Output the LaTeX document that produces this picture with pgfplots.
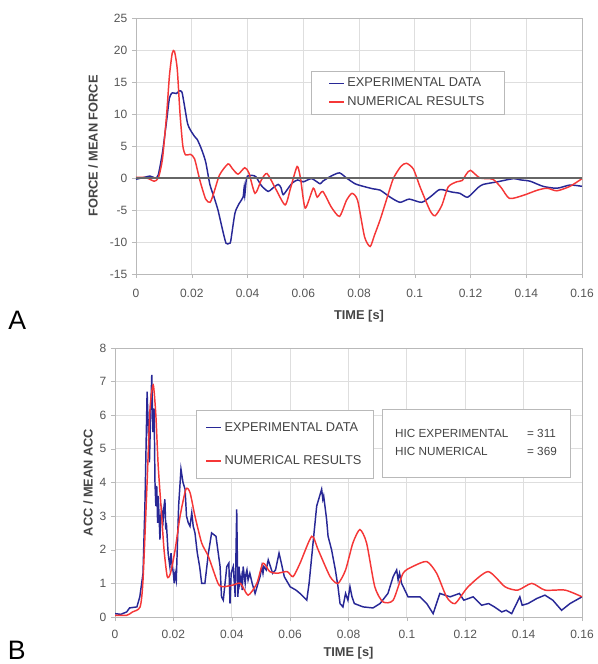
\documentclass[border=0pt]{standalone}
\usepackage{fontspec}
\setmainfont{Liberation Sans}
\usepackage{pgfplots}
\pgfplotsset{compat=1.18}

\definecolor{expblue}{RGB}{40,40,150}
\definecolor{numred}{RGB}{245,55,55}
\definecolor{gridgray}{RGB}{222,222,222}
\definecolor{framegray}{RGB}{185,185,185}
\definecolor{txtgray}{RGB}{85,85,85}

\pgfplotsset{
  excel/.style={
    scale only axis,
    anchor=south west,
    axis line style={framegray},
    grid=major,
    grid style={gridgray, line width=0.6pt},
    tick style={framegray},
    tick align=outside,
    major tick length=3pt,
    xtick pos=bottom, ytick pos=left,
    xmin=0, xmax=0.16,
    xtick={0,0.02,...,0.16},
    xticklabels={0,0.02,0.04,0.06,0.08,0.1,0.12,0.14,0.16},
    tick label style={font=\fontsize{9}{10}\selectfont, text=txtgray},
    /pgf/number format/assume math mode=true,
    label style={font=\fontsize{9.6}{11}\selectfont\bfseries, text=txtgray!80!black},
    legend cell align=left,
    legend image code/.code={\draw[#1, line width=1.2pt] (0pt,0pt) -- (11pt,0pt);},
  },
}

\begin{document}
\begin{tikzpicture}
\path[use as bounding box] (0,0) rectangle (447.75pt,498pt);

% ---------- A : force ----------
\begin{axis}[excel,
  at={(102pt,292.5pt)},
  width=334.5pt, height=192pt,
  ymin=-15, ymax=25, ytick={-15,-10,...,25},
  xticklabel style={yshift=-5pt},
  xlabel={TIME [s]},
  ylabel={FORCE / MEAN FORCE},
  xlabel style={at={(axis description cs:0.5,-0.164)}, anchor=center},
  ylabel style={at={(axis description cs:-0.0964,0.5)}, anchor=center},
  legend style={at={(0.392,0.793)}, anchor=north west, draw=framegray,
    font=\fontsize{9.6}{11}\selectfont, text=txtgray!80!black,
    inner xsep=13pt, inner ysep=3pt, row sep=2pt},
]
\addplot[expblue, line width=1.1pt, smooth, tension=0.4] coordinates {
 (0,-0.2) (0.003,0.1) (0.005,0.3) (0.007,0.0) (0.008,0.5) (0.0095,4)
 (0.011,9) (0.012,12.5) (0.013,13.3) (0.0145,13.2) (0.0155,13.6) (0.0165,13.4)
 (0.0175,11) (0.0185,8.5) (0.0195,7.5) (0.021,6.5) (0.022,6) (0.0235,4.5)
 (0.025,2.5) (0.0265,-1) (0.028,-3) (0.0294,-5) (0.031,-8) (0.0323,-10.2)
 (0.0335,-10.2) (0.034,-9.8) (0.0355,-5.5) (0.037,-4) (0.0384,-3) (0.0388,-1.5)
 (0.039,-2.8) (0.0395,-0.5) (0.040,0.3) (0.0417,0.4) (0.043,0.2) (0.045,-1.2)
 (0.0474,-2.1) (0.049,-1.6) (0.051,-1.0) (0.052,-1.5) (0.0528,-2.6) (0.0546,-1.6)
 (0.056,-0.8) (0.058,-0.3) (0.060,-0.6) (0.063,-0.1) (0.066,-0.9) (0.067,-0.5)
 (0.070,0.3) (0.073,0.8) (0.0755,0) (0.0786,-0.9) (0.0815,-1.3) (0.0851,-1.7)
 (0.0876,-1.9) (0.0912,-3.0) (0.0947,-3.8) (0.098,-3.3) (0.1025,-3.8) (0.106,-2.8)
 (0.109,-1.8) (0.1133,-2.2) (0.1162,-2.4) (0.119,-3.0) (0.1227,-1.5) (0.1246,-1.0)
 (0.1296,-0.6) (0.1354,-0.1) (0.138,-0.3) (0.1414,-0.5) (0.146,-1.3) (0.151,-1.6)
 (0.1557,-1.1) (0.16,-1.3)
};
\addlegendentry{EXPERIMENTAL DATA}

\addplot[numred, line width=1.1pt, smooth, tension=0.4] coordinates {
 (0,0.1) (0.003,0.1) (0.005,-0.2) (0.0065,-0.5) (0.008,0) (0.0095,3)
 (0.011,10) (0.012,16) (0.013,19.5) (0.0138,19.8) (0.0148,17) (0.0158,10)
 (0.0168,5) (0.0178,3.6) (0.0195,3.7) (0.021,3.0) (0.023,-0.5) (0.025,-3.3)
 (0.0266,-3.8) (0.028,-2.2) (0.030,0.5) (0.033,2.2) (0.0345,1.5) (0.0366,0.6)
 (0.039,1.6) (0.0405,0.8) (0.0427,-2.4) (0.045,-0.3) (0.047,0.7) (0.050,-1.6)
 (0.0535,-4.2) (0.0555,-1.5) (0.0578,1.8) (0.059,0) (0.0607,-4.7) (0.0636,-1.6)
 (0.065,-3.0) (0.067,-2.1) (0.070,-4.5) (0.073,-6) (0.0755,-3.5) (0.0775,-2.4)
 (0.0795,-3.5) (0.082,-9.2) (0.084,-10.7) (0.0855,-9) (0.0876,-6.5) (0.090,-3.2)
 (0.0923,-0.1) (0.095,1.8) (0.097,2.3) (0.0995,1.4) (0.102,-1.5) (0.1055,-5.1)
 (0.1073,-5.9) (0.1097,-4.3) (0.112,-1.4) (0.115,-0.6) (0.117,-0.4) (0.1185,0.6)
 (0.120,1.2) (0.1234,0) (0.128,-0.2) (0.131,-1.5) (0.134,-3.2) (0.139,-2.7)
 (0.144,-1.9) (0.1475,-1.6) (0.151,-2.0) (0.1557,-1.3) (0.16,-0.1)
};
\addlegendentry{NUMERICAL RESULTS}

% zero line of the category axis
\draw[gray!80!black, line width=0.9pt] (axis cs:0,0) -- (axis cs:0.16,0);
\end{axis}

% ---------- B : acceleration ----------
\begin{axis}[excel,
  at={(86.25pt,35.25pt)},
  width=350.25pt, height=201.75pt,
  ymin=0, ymax=8, ytick={0,1,...,8},
  xticklabel style={yshift=-3pt},
  xlabel={TIME [s]},
  ylabel={ACC / MEAN ACC},
  xlabel style={at={(axis description cs:0.5,-0.134)}, anchor=center},
  ylabel style={at={(axis description cs:-0.0578,0.5)}, anchor=center},
  legend style={at={(0.1734,0.7695)}, anchor=north west, draw=framegray,
    font=\fontsize{9.6}{11}\selectfont, text=txtgray!80!black,
    inner xsep=7pt, inner ysep=7pt, row sep=13pt},
]
\addplot[expblue, line width=1.1pt] coordinates {
 (0,0.1) (0.002,0.08) (0.004,0.15) (0.005,0.27) (0.0075,0.3) (0.0085,0.6)
 (0.0096,1.3) (0.0103,3.5) (0.011,6.7) (0.0118,4.6) (0.0122,6) (0.0126,7.2)
 (0.013,5.5) (0.0134,6.2) (0.0137,4) (0.014,3.3) (0.0143,3.9) (0.0146,2.8) (0.0148,3.6)
 (0.0151,3.0) (0.0154,2.3) (0.0157,3.0) (0.016,3.2) (0.0165,2.9) (0.0168,3.3) (0.0171,3.5)
 (0.0174,2.6) (0.0176,2.8) (0.0182,1.9) (0.0188,1.5) (0.0192,1.9) (0.0195,1.6)
 (0.0200,1.3) (0.0203,1.0) (0.0206,1.3) (0.021,1.1) (0.0218,3.3) (0.0226,4.4) (0.0233,4.0)
 (0.024,3.8) (0.0245,3.0) (0.0251,2.8) (0.0257,2.7) (0.0263,3.1) (0.0268,2.7)
 (0.0274,2.5) (0.0282,1.9) (0.029,1.5) (0.0297,1.0) (0.0308,1.0) (0.032,1.9)
 (0.0331,2.5) (0.0346,2.4) (0.036,1.5) (0.0365,0.6) (0.0371,0.5) (0.0377,1.0)
 (0.0383,1.5) (0.039,1.6) (0.0394,0.4) (0.0398,1.3) (0.0405,1.5) (0.0412,0.6) (0.0417,3.2)
 (0.0421,0.6) (0.0425,1.5) (0.0428,1.0) (0.0432,1.2) (0.0436,0.8) (0.0439,1.5) (0.0446,1.0)
 (0.0449,1.3) (0.0452,1.4) (0.0456,1.1) (0.0462,1.3) (0.047,1.0) (0.048,0.7) (0.049,1.0)
 (0.0497,1.2) (0.0503,1.5) (0.0507,1.3) (0.051,1.5) (0.0518,1.4)
 (0.0525,1.7) (0.054,1.3) (0.055,1.4) (0.0562,1.9) (0.057,1.6) (0.058,1.2)
 (0.06,0.9) (0.062,0.8) (0.0634,0.7) (0.0657,0.5) (0.0665,1.0) (0.0674,1.8)
 (0.0691,3.3) (0.0708,3.8) (0.0712,3.5) (0.0715,3.6) (0.0725,2.9) (0.073,2.4) (0.0742,2.0)
 (0.0755,1.4) (0.0764,0.9) (0.0771,0.4) (0.0781,0.3) (0.079,0.7) (0.0798,0.5) (0.0805,0.9)
 (0.0812,0.6) (0.082,0.4) (0.085,0.3) (0.0884,0.27) (0.0908,0.4) (0.0935,0.7) (0.0953,1.2)
 (0.0965,1.4) (0.0970,1.1) (0.0975,1.3) (0.0982,1.0) (0.1004,0.6) (0.1045,0.6) (0.1068,0.4)
 (0.109,0.1) (0.1113,0.7) (0.1148,0.6) (0.118,0.7) (0.1195,0.5) (0.1227,0.6)
 (0.1256,0.35) (0.128,0.4) (0.1300,0.3) (0.1325,0.15) (0.1340,0.2) (0.1359,0.1) (0.1387,0.6)
 (0.1395,0.35) (0.1415,0.4) (0.1445,0.55) (0.1473,0.65) (0.150,0.5) (0.153,0.2) (0.1559,0.4) (0.16,0.6)
};
\addlegendentry{EXPERIMENTAL DATA}

\addplot[numred, line width=1.1pt, smooth, tension=0.4] coordinates {
 (0,0.05) (0.004,0.05) (0.006,0.15) (0.0086,0.3) (0.0096,1.1) (0.011,4)
 (0.012,6.2) (0.0131,6.9) (0.014,6) (0.0148,4.5) (0.016,3) (0.0168,2)
 (0.0179,1.2) (0.019,1.3) (0.0206,2) (0.0223,3) (0.0243,3.8) (0.0257,3.7)
 (0.0274,3.0) (0.0297,2.2) (0.032,1.8) (0.0353,1.0) (0.037,0.9) (0.0404,0.95)
 (0.043,1.0) (0.0456,0.65) (0.0486,1.0) (0.0507,1.6) (0.053,1.35) (0.0555,1.3)
 (0.059,1.35) (0.061,1.2) (0.0634,1.6) (0.0674,2.4) (0.0696,2.0) (0.0737,1.2)
 (0.0764,1.0) (0.079,1.4) (0.0815,2.2) (0.0839,2.6) (0.0862,2.2) (0.089,0.9)
 (0.0918,0.45) (0.0953,0.5) (0.0987,1.3) (0.102,1.5) (0.1068,1.65) (0.1102,1.3)
 (0.1136,0.6) (0.1165,0.4) (0.121,0.9) (0.1278,1.35) (0.1336,0.9) (0.138,0.8)
 (0.1428,1.0) (0.1473,0.8) (0.1542,0.8) (0.16,0.6)
};
\addlegendentry{NUMERICAL RESULTS}

\node[draw=framegray, fill=white, minimum width=141pt, minimum height=51pt,
  font=\fontsize{8.8}{13.5}\selectfont, text=txtgray!80!black]
  at (rel axis cs:0.773,0.647)
  {\begin{tabular}{@{}l@{\hspace{1.6em}}l@{}}HIC EXPERIMENTAL & = 311\\ HIC NUMERICAL & = 369\end{tabular}};
\end{axis}

\node[font=\fontsize{20}{22}\selectfont, anchor=center] at (13pt,258pt) {A};
\node[font=\fontsize{20}{22}\selectfont, anchor=center] at (12.5pt,10pt) {B};
\end{tikzpicture}
\end{document}
